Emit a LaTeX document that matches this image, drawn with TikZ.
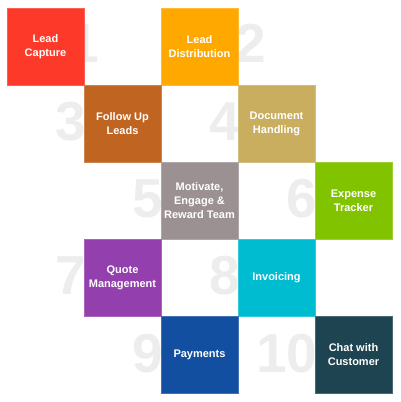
\documentclass[tikz,border=0pt]{standalone}
\usepackage{fontspec}
\setmainfont{Liberation Sans}
\definecolor{cA}{HTML}{FD3A2A}
\definecolor{cB}{HTML}{FFA800}
\definecolor{cC}{HTML}{C06521}
\definecolor{cD}{HTML}{C9AE5F}
\definecolor{cE}{HTML}{9B9193}
\definecolor{cF}{HTML}{82C300}
\definecolor{cG}{HTML}{943FAE}
\definecolor{cH}{HTML}{00BCD0}
\definecolor{cI}{HTML}{134FA0}
\definecolor{cJ}{HTML}{1E4452}
\definecolor{numgrey}{HTML}{EDEDED}
\tikzset{
  tile/.style={fill=#1, draw=#1!80!white, line width=0.8pt, minimum width=77pt, minimum height=77pt,
    inner sep=0pt, text=white, align=center, font=\bfseries\fontsize{11}{14}\selectfont},
  bignum/.style={text=numgrey, inner sep=0pt, font=\bfseries\fontsize{55}{55}\selectfont}
}
\begin{document}
\begin{tikzpicture}[x=1pt,y=1pt]
\useasboundingbox (0,0) rectangle (400,402);
\coordinate (p1) at (45.5,355.5);
\coordinate (p2) at (199.5,355.5);
\coordinate (p3) at (122.5,278.5);
\coordinate (p4) at (276.5,278.5);
\coordinate (p5) at (199.5,201.5);
\coordinate (p6) at (353.5,201.5);
\coordinate (p7) at (122.5,124.5);
\coordinate (p8) at (276.5,124.5);
\coordinate (p9) at (199.5,47.5);
\coordinate (p10) at (353.5,47.5);
% big numbers (behind tiles)
\node[bignum, anchor=east] (n1) at ([xshift=54pt,yshift=3pt]p1) {1};
\node[bignum, anchor=west] (n2) at ([xshift=36pt,yshift=3pt]p2) {2};
\node[bignum, anchor=east] (n3) at ([xshift=-36pt,yshift=2pt]p3) {3};
\node[bignum, anchor=east] (n4) at ([xshift=-36pt,yshift=2pt]p4) {4};
\node[bignum, anchor=east] (n5) at ([xshift=-36pt,yshift=2pt]p5) {5};
\node[bignum, anchor=east] (n6) at ([xshift=-36pt,yshift=2pt]p6) {6};
\node[bignum, anchor=east] (n7) at ([xshift=-36pt,yshift=2pt]p7) {7};
\node[bignum, anchor=east] (n8) at ([xshift=-36pt,yshift=2pt]p8) {8};
\node[bignum, anchor=east] (n9) at ([xshift=-36pt,yshift=1pt]p9) {9};
\node[bignum, anchor=east] (n10) at ([xshift=-36pt,yshift=1pt]p10) {10};
% tiles
\node[tile=cA] (t1) at (p1) {Lead\\Capture};
\node[tile=cB] (t2) at (p2) {Lead\\Distribution};
\node[tile=cC] (t3) at (p3) {Follow Up\\Leads};
\node[tile=cD] (t4) at (p4) {Document\\Handling};
\node[tile=cE] (t5) at (p5) {Motivate,\\Engage \&\\Reward Team};
\node[tile=cF] (t6) at (p6) {Expense\\Tracker};
\node[tile=cG] (t7) at (p7) {Quote\\Management};
\node[tile=cH] (t8) at (p8) {Invoicing};
\node[tile=cI] (t9) at (p9) {Payments};
\node[tile=cJ] (t10) at (p10) {Chat with\\Customer};
\end{tikzpicture}
\end{document}
